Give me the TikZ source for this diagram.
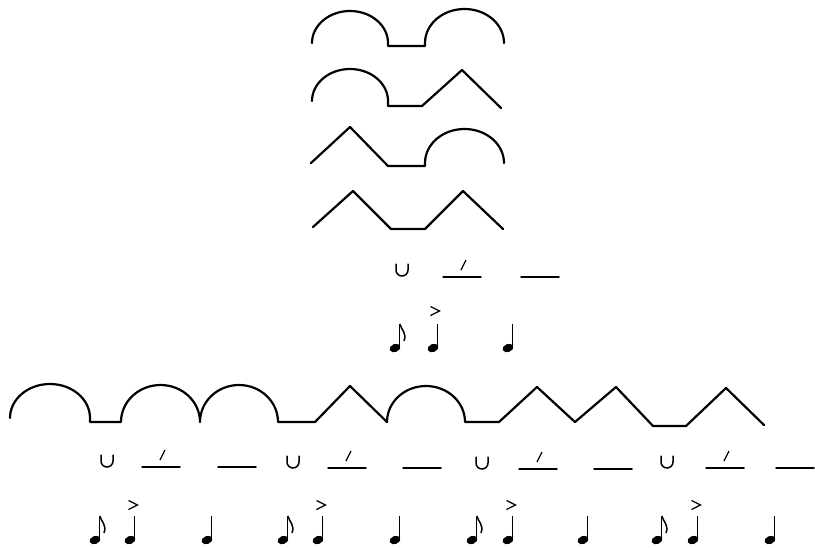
\documentclass[tikz,border=0pt]{standalone}
\begin{document}
\begin{tikzpicture}[x=1pt,y=-1pt,
  wave/.style={line width=2.2pt,line join=round,line cap=round},
  sym/.style={line width=1.5pt,line cap=round},
  quarter/.pic={
    \fill[rotate=22] (0,0) ellipse[x radius=5.6,y radius=4];
    \draw[line width=1.2pt] (4.8,-1.5) -- (4.8,-24);
  },
  eighth/.pic={
    \fill[rotate=22] (0,0) ellipse[x radius=5.6,y radius=4];
    \draw[line width=1.2pt] (4.8,-1.5) -- (4.8,-24);
    \draw[line width=1.5pt] (4.8,-24) .. controls (6.5,-18) and (12,-15) .. (9,-7);
  },
  accent/.pic={
    \draw[line width=1.2pt,line join=miter] (-4.5,-4.5) -- (4.5,0) -- (-4.5,4.5);
  },
  breve/.pic={
    \draw[sym] (-6,-6) -- (-6,0) arc[start angle=180,end angle=0,radius=6] -- (6,-6);
  },
  stress/.pic={
    \draw[sym] (-19,0) -- (19,0);
    \draw[line width=1.2pt] (-1,-7) -- (4,-17);
  },
  long/.pic={
    \draw[sym] (-19,0) -- (19,0);
  }
]
\useasboundingbox (0,0) rectangle (815,547);

% four two-foot patterns
\draw[wave] (312,43) arc[start angle=180,end angle=360,x radius=38,y radius=32]
  -- (388,46) -- (425,46) -- (425,43)
  arc[start angle=180,end angle=360,x radius=39.5,y radius=34];
\draw[wave] (312,101) arc[start angle=180,end angle=360,x radius=38,y radius=32]
  -- (388,106) -- (422,106) -- (462,70) -- (501,108);
\draw[wave] (311,163) -- (350,127) -- (388,166) -- (425,166) -- (425,163)
  arc[start angle=180,end angle=360,x radius=39.5,y radius=34];
\draw[wave] (313,227) -- (353,191) -- (391,229) -- (425,229) -- (463,191) -- (503,229);

% metre and rhythm for one foot
\pic at (402,270) {breve};
\pic at (462,277) {stress};
\pic at (540,277) {long};
\pic at (395,348) {eighth};
\pic at (433,348) {quarter};
\pic at (435,311) {accent};
\pic at (508,348) {quarter};

% long line
\draw[wave] (10,418) arc[start angle=180,end angle=360,x radius=40,y radius=34]
  -- (90,422) -- (121,422)
  arc[start angle=180,end angle=360,x radius=39.5,y radius=37]
  arc[start angle=180,end angle=360,x radius=39,y radius=37]
  -- (315,422) -- (350,386) -- (387,422)
  arc[start angle=180,end angle=360,x radius=39,y radius=36]
  -- (499,422) -- (537,387) -- (575,422) -- (616,387) -- (653,426)
  -- (686,426) -- (726,388) -- (764,425);

% metre under the long line
\foreach \bx/\sx/\lx/\ly in {107/161/237/467, 293/347/422/468, 482/538/613/469, 667/725/795/468}{
  \pic at (\bx,\ly-6) {breve};
  \pic at (\sx,\ly) {stress};
  \pic at (\lx,\ly) {long};
}

% rhythm under the long line
\foreach \ex/\qx/\px in {95/130/207, 283/318/395, 472/508/583, 657/693/770}{
  \pic at (\ex,540) {eighth};
  \pic at (\qx,540) {quarter};
  \pic at (\qx+3,505) {accent};
  \pic at (\px,540) {quarter};
}
\end{tikzpicture}
\end{document}
